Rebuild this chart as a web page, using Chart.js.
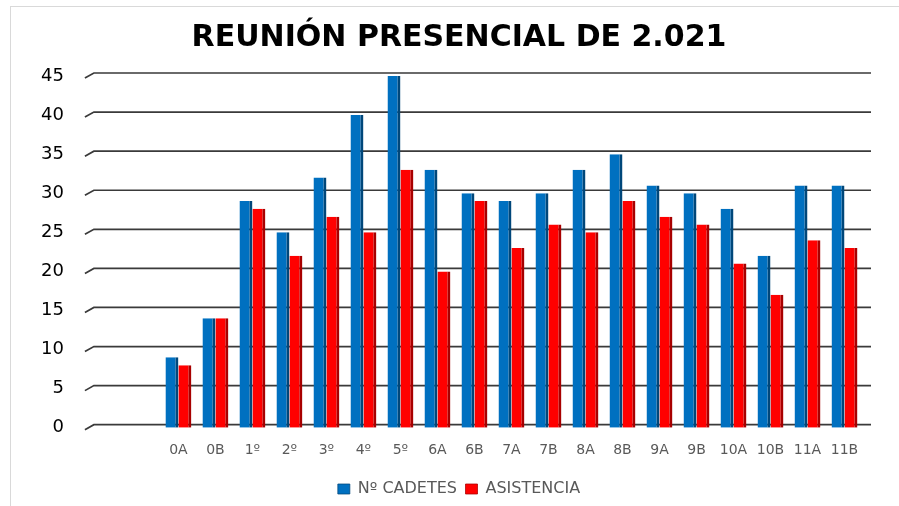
<!DOCTYPE html>
<html>
<head>
<meta charset="utf-8">
<script src="https://cdn.jsdelivr.net/npm/chart.js@4.4.1/dist/chart.umd.min.js"></script>
<style>
  html, body { margin: 0; padding: 0; background: #fff; }
  #wrap { position: relative; width: 899px; height: 506px; overflow: hidden; }
  #frame {
    position: absolute; left: 10px; top: 6px; width: 920px; height: 540px;
    border: 1px solid #d9d9d9; box-sizing: border-box;
  }
  canvas { position: absolute; left: 0; top: 0; }
</style>
</head>
<body>
<div id="wrap">
  <div id="frame"></div>
  <canvas id="asistenciaChart" width="899" height="506"></canvas>
</div>
<script>
// Categories (two empty slots before 0A, as in the original sheet)
const grupos = ["", "", "0A", "0B", "1º", "2º", "3º", "4º", "5º", "6A", "6B", "7A", "7B", "8A", "8B", "9A", "9B", "10A", "10B", "11A", "11B"];

// Series values
const cadetes = [null, null, 9, 14, 29, 25, 32, 40, 45, 33, 30, 29, 30, 33, 35, 31, 30, 28, 22, 31, 31];
const asistencia = [null, null, 8, 14, 28, 22, 27, 25, 33, 20, 29, 23, 26, 25, 29, 27, 26, 21, 17, 24, 23];

// Y axis ticks
const yTicks = [0, 5, 10, 15, 20, 25, 30, 35, 40, 45];

// Grid on the back wall, shifted a bit up/right like the 3D chart
const backWallGrid = {
  id: "backWallGrid",
  beforeDatasetsDraw(chart) {
    const { ctx, chartArea, scales } = chart;
    const dx = 8;
    const dy = 3;
    ctx.save();
    ctx.strokeStyle = "#3a3a3a";
    ctx.lineWidth = 1.7;
    yTicks.forEach((v) => {
      const y = scales.y.getPixelForValue(v);
      ctx.beginPath();
      ctx.moveTo(chartArea.left - 1, y + 2);
      ctx.lineTo(chartArea.left + dx, y - dy);
      ctx.lineTo(chartArea.right + dx, y - dy);
      ctx.stroke();
    });
    ctx.restore();
  },
};

const canvas = document.getElementById("asistenciaChart");
const ctx = canvas.getContext("2d");

new Chart(ctx, {
  type: "bar",
  data: {
    labels: grupos,
    datasets: [
      {
        label: "Nº CADETES",
        data: cadetes,
        backgroundColor: "#0070C0",
        borderColor: "#00477a",
        borderWidth: { top: 0, right: 3, bottom: 0, left: 0 },
        borderSkipped: false,
      },
      {
        label: "ASISTENCIA",
        data: asistencia,
        backgroundColor: "#FF0000",
        borderColor: "#a80000",
        borderWidth: { top: 0, right: 3, bottom: 0, left: 0 },
        borderSkipped: false,
      },
    ],
  },
  options: {
    responsive: false,
    animation: false,
    layout: {
      padding: { left: 19, right: 0, top: 0, bottom: -1 },
    },
    datasets: {
      bar: {
        categoryPercentage: 0.7,
        barPercentage: 1,
      },
    },
    plugins: {
      title: {
        display: true,
        text: "REUNIÓN PRESENCIAL DE 2.021",
        color: "#000",
        font: { family: "DejaVu Sans", size: 30, weight: "bold" },
        padding: { top: 20, bottom: 20 },
      },
      legend: {
        position: "bottom",
        labels: {
          color: "#595959",
          font: { family: "DejaVu Sans", size: 16 },
          boxWidth: 12,
          boxHeight: 10,
          padding: 8.5,
        },
      },
      tooltip: { enabled: false },
    },
    scales: {
      x: {
        grid: { display: false, drawTicks: false },
        border: { display: false },
        ticks: {
          color: "#595959",
          font: { family: "DejaVu Sans", size: 14 },
          maxRotation: 0,
          autoSkip: false,
          padding: 14,
        },
      },
      y: {
        min: 0,
        max: 45,
        grid: { display: false, drawTicks: false },
        border: { display: false },
        afterBuildTicks: (axis) => {
          axis.ticks = yTicks.map((v) => ({ value: v }));
        },
        ticks: {
          color: "#000",
          font: { family: "DejaVu Sans", size: 18 },
          padding: 22,
        },
      },
      // empty right-hand spacer so title and legend sit where they do in the original
      y2: {
        position: "right",
        grid: { display: false, drawTicks: false },
        border: { display: false },
        ticks: { display: false },
        title: { display: true, text: " ", padding: 0, font: { size: 30 } },
      },
    },
  },
  plugins: [backWallGrid],
});
</script>
</body>
</html>
